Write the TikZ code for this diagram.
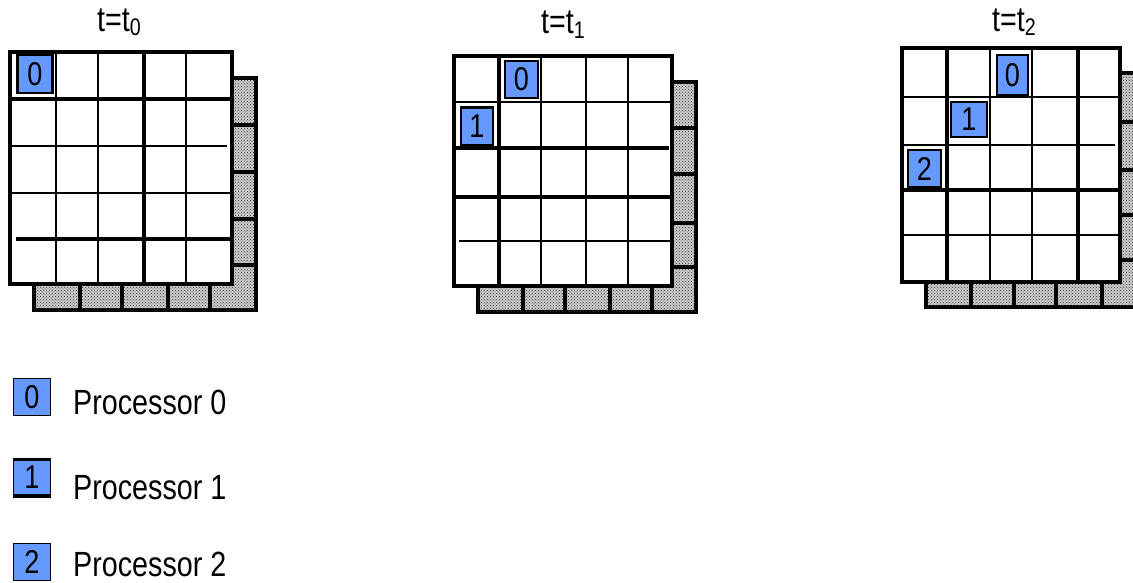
\documentclass[tikz,border=0pt]{standalone}
\usepackage{fontspec}
\setmainfont{Liberation Sans}[FakeStretch=0.82]
\definecolor{procblue}{RGB}{102,153,255}
\usepackage{tikz}
\usetikzlibrary{patterns}

\begin{document}
\begin{tikzpicture}[x=1pt, y=-1pt,
  thin grid/.style={line width=1.8pt},
  thick grid/.style={line width=3.5pt},
  shade/.style={fill=gray!40, postaction={pattern=crosshatch dots, pattern color=black!80}, line width=3.5pt},
  proc/.style={fill=procblue, draw=black, line width=2.5pt, inner sep=0pt, font=\fontsize{33}{33}\selectfont},
  stamp/.style={anchor=base, inner sep=0pt, font=\fontsize{35}{35}\selectfont},
  lbl/.style={anchor=base west, inner sep=0pt, font=\fontsize{35}{35}\selectfont}]
  \useasboundingbox (0,0) rectangle (1133,583);

  % grid at t0
  \node[stamp] (title0) at (119,32) {t=t\raisebox{-4pt}{\fontsize{24}{24}\selectfont 0}};
  \draw[shade] (34,78) rectangle (256,310);
  \draw[thick grid] (34,125) -- (256,125) (34,172) -- (256,172) (34,219) -- (256,219) (34,265) -- (256,265);
  \draw[thick grid] (80,78) -- (80,310) (122,78) -- (122,310) (168,78) -- (168,310) (210,78) -- (210,310);
  \draw[thick grid, fill=white] (10,52) rectangle (232,284);
  \draw[thin grid] (56,52) -- (56,284) (98,52) -- (98,284) (186,52) -- (186,284);
  \draw[thick grid] (144,52) -- (144,284);
  \draw[thick grid] (10,99) -- (232,99) (16,239) -- (232,239);
  \draw[thin grid] (10,146) -- (227,146) (10,193) -- (232,193);
  \node[proc, minimum width=35, minimum height=38] (a0) at (35,74) {0};

  % grid at t1
  \node[stamp] (title1) at (563,34) {t=t\raisebox{-5pt}{\fontsize{24}{24}\selectfont 1}};
  \draw[shade] (478,82) rectangle (696,312);
  \draw[thick grid] (478,128) -- (696,128) (478,174) -- (696,174) (478,223) -- (696,223) (478,267) -- (696,267);
  \draw[thick grid] (523,82) -- (523,312) (565,82) -- (565,312) (610,82) -- (610,312) (652,82) -- (652,312);
  \draw[thick grid, fill=white] (454,56) rectangle (672,286);
  \draw[thick grid] (499,56) -- (499,286);
  \draw[thin grid] (541,56) -- (541,286) (586,56) -- (586,286) (628,56) -- (628,286);
  \draw[thin grid] (454,102) -- (672,102) (459,241) -- (672,241);
  \draw[thick grid] (454,148) -- (669,148) (454,197) -- (672,197);
  \node[proc, minimum width=33, minimum height=37] (b0) at (521.5,79.5) {0};
  \node[proc, minimum width=32, minimum height=38] (b1) at (477,126.5) {1};

  % grid at t2
  \node[stamp] (title2) at (1014,32) {t=t\raisebox{-4pt}{\fontsize{24}{24}\selectfont 2}};
  \draw[shade] (926,73) rectangle (1144,307);
  \draw[thick grid] (926,122) -- (1144,122) (926,170) -- (1144,170) (926,215) -- (1144,215) (926,260) -- (1144,260);
  \draw[thick grid] (971,73) -- (971,307) (1014,73) -- (1014,307) (1056,73) -- (1056,307) (1102,73) -- (1102,307);
  \draw[thick grid, fill=white] (902,48) rectangle (1120,282);
  \draw[thick grid] (947,48) -- (947,282) (1078,48) -- (1078,282);
  \draw[thin grid] (990,48) -- (990,282) (1032,48) -- (1032,282);
  \draw[thin grid] (902,97) -- (1120,97) (902,145) -- (1115,145) (902,235) -- (1120,235);
  \draw[thick grid] (902,190) -- (1120,190);
  \node[proc, minimum width=31, minimum height=40] (c0) at (1012.5,75) {0};
  \node[proc, minimum width=36, minimum height=35] (c1) at (969,119.5) {1};
  \node[proc, minimum width=33, minimum height=37] (c2) at (924.5,168.5) {2};

  % legend
  \node[proc, line width=1.5pt, minimum width=37, minimum height=37] (key0) at (32,397) {0};
  \node[lbl] (key0text) at (73,414) {Processor 0};
  \node[proc, line width=1.5pt, minimum width=37, minimum height=35] (key1) at (32,477.5) {1};
  \draw[thick grid] (key1.north west) -- (key1.north east) (key1.south west) -- (key1.south east);
  \node[lbl] (key1text) at (73,499) {Processor 1};
  \node[proc, line width=1.5pt, minimum width=37, minimum height=37] (key2) at (32,562) {2};
  \node[lbl] (key2text) at (73,576) {Processor 2};
\end{tikzpicture}
\end{document}
